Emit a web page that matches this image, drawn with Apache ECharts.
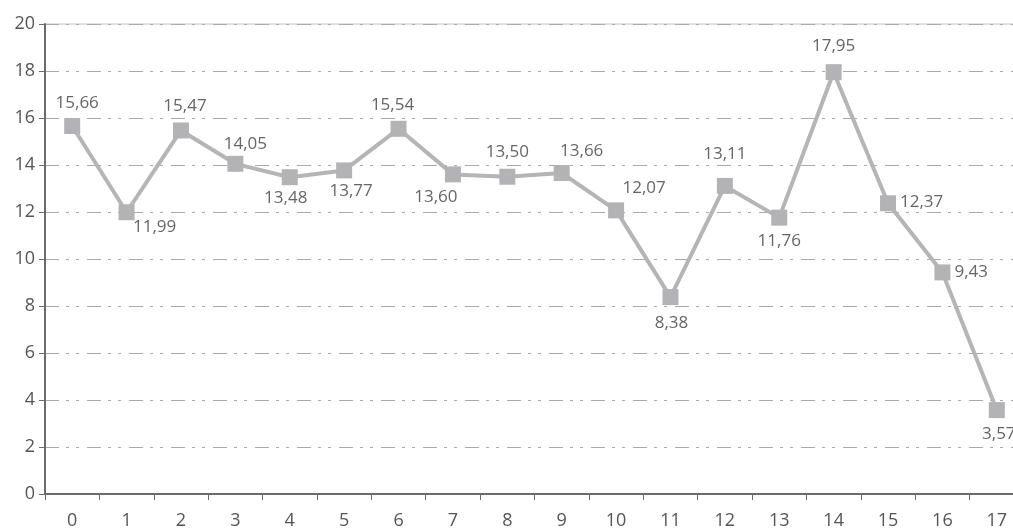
<!DOCTYPE html>
<html>
<head>
<meta charset="utf-8">
<script src="https://cdn.jsdelivr.net/npm/echarts@6/dist/echarts.min.js"></script>
<style>
  html, body { margin: 0; padding: 0; background: #fff; }
  #main { width: 1013px; height: 529px; }
</style>
</head>
<body>
<div id="main"></div>
<script>
// categories (x axis)
const categories = ['0', '1', '2', '3', '4', '5', '6', '7', '8', '9', '10', '11', '12', '13', '14', '15', '16', '17'];
// series values
const values = [15.66, 11.99, 15.47, 14.05, 13.48, 13.77, 15.54, 13.60, 13.50, 13.66, 12.07, 8.38, 13.11, 11.76, 17.95, 12.37, 9.43, 3.57];
// y axis range
const yMin = 0, yMax = 20, yStep = 2;

// label placement per point (style only): [position, dx, dy]
const labelPlace = [
  ['top', 5, -2], ['bottom', 28, -6], ['top', 4, -4], ['top', 10, 1],
  ['bottom', -4, 0], ['bottom', 7, 0], ['top', -6, -3], ['bottom', -17, 2],
  ['top', 0, -4], ['top', 20, -1], ['top', 28, -2], ['bottom', 1, 6],
  ['top', 0, -11], ['bottom', 0, 3], ['top', 0, -6], ['right', 0, -1],
  ['right', 0, 0], ['bottom', 2, 4]
];

let chart = echarts.init(document.getElementById('main'));

let seriesData = values.map(function (v, i) {
  let p = labelPlace[i];
  return {
    value: v,
    label: { position: p[0], offset: [p[1], p[2]] }
  };
});

chart.setOption({
  animation: false,
  grid: {
    left: 45,
    top: 24,
    bottom: 35,
    width: 979,
    outerBoundsMode: 'none',
    containLabel: false,
    show: true,
    borderColor: '#c4c4c4',
    borderWidth: 1
  },
  xAxis: {
    type: 'category',
    data: categories,
    boundaryGap: true,
    axisLine: { lineStyle: { color: '#6b6b6b', width: 2 } },
    axisTick: { show: true, length: 6, lineStyle: { color: '#6b6b6b', width: 1 } },
    axisLabel: { color: '#555', fontSize: 18, fontFamily: 'Open Sans', margin: 18 }
  },
  yAxis: {
    type: 'value',
    min: yMin,
    max: yMax,
    interval: yStep,
    axisLine: { show: true, lineStyle: { color: '#6b6b6b', width: 2 } },
    axisTick: { show: true, length: 6, lineStyle: { color: '#6b6b6b', width: 1 } },
    axisLabel: { color: '#555', fontSize: 18, fontFamily: 'Open Sans', margin: 10 },
    splitLine: {
      show: true,
      lineStyle: { color: '#a9a9a9', width: 1, type: [14, 7, 3, 7, 3, 8] }
    }
  },
  series: [{
    type: 'line',
    data: seriesData,
    symbol: 'rect',
    symbolSize: 16,
    lineStyle: { color: '#b5b5b7', width: 4 },
    itemStyle: { color: '#b3b3b5' },
    label: {
      show: true,
      distance: 4,
      color: '#666',
      fontSize: 17,
      fontFamily: 'Open Sans',
      formatter: function (p) {
        return p.value.toFixed(2).replace('.', ',');
      }
    }
  }]
});
</script>
</body>
</html>
